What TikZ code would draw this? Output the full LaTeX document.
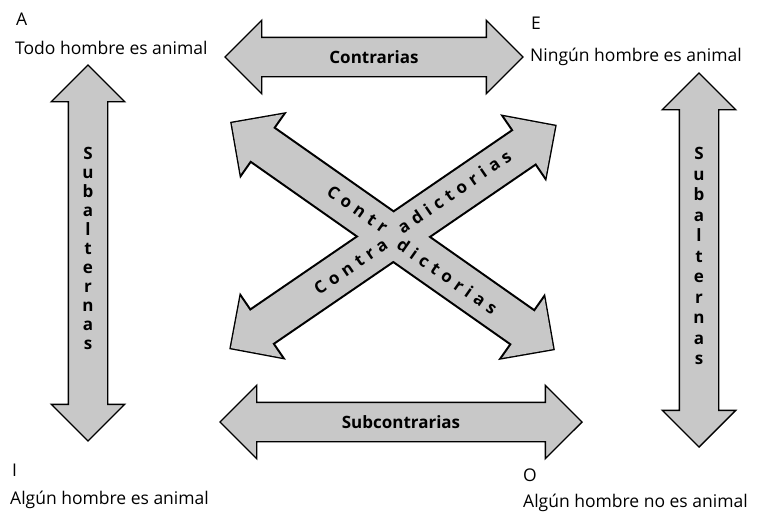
\documentclass[tikz,border=0pt]{standalone}
\usepackage{fontspec}
\setmainfont{Open Sans}
\usetikzlibrary{shapes.arrows, positioning}
\definecolor{arrowGray}{HTML}{C8C8C8}

\begin{document}
\begin{tikzpicture}[
    x=1pt, y=-1pt,
    fatarrow/.style={double arrow, draw, line width=1.4pt, fill=arrowGray, inner xsep=0pt, inner ysep=19pt, text height=0pt, text depth=0pt, double arrow head extend=17pt, minimum width=72pt},
    fatfill/.style={fatarrow, draw=none},
    corner/.style={anchor=base west, inner sep=0pt, font=\fontsize{17.5}{20}\selectfont},
    arrowlabel/.style={inner sep=0pt, font=\bfseries\fontsize{17}{20}\selectfont},
    stacklabel/.style={align=center, inner sep=0pt, font=\bfseries\fontsize{17}{19}\selectfont},
    diaglabel/.style={inner sep=0pt, font=\bfseries\fontsize{17}{20}\selectfont\addfontfeature{LetterSpace=32}},
]
    \useasboundingbox (0,0) rectangle (758,514);

    % the four propositions
    \node[corner] (letA) at (16,25) {A};
    \node[corner] (propA) at (15,54) {Todo hombre es animal};
    \node[corner] (letE) at (531,29) {E};
    \node[corner] (propE) at (530,61) {Ningún hombre es animal};
    \node[corner] (letI) at (12,476) {I};
    \node[corner] (propI) at (10,504) {Algún hombre es animal};
    \node[corner] (letO) at (523,481) {O};
    \node[corner] (propO) at (523,507) {Algún hombre no es animal};

    % contrarias and subcontrarias
    \node[fatarrow, minimum height=298pt] (contr) at (374,57) {};
    \node[fatarrow, minimum height=362pt] (subc) at (401,422) {};
    \node[arrowlabel] (contrtext) at (contr.center) {Contrarias};
    \node[arrowlabel] (subctext) at (subc.center) {Subcontrarias};

    % subalternas
    \node[fatarrow, minimum height=376pt, rotate=90] (subA) at (88,253) {};
    \node[fatarrow, minimum height=374pt, rotate=90] (subE) at (699,260) {};
    \node[stacklabel] (subAtext) at (88,248) {S\\u\\b\\a\\l\\t\\e\\r\\n\\a\\s};
    \node[stacklabel, font=\bfseries\fontsize{17}{20.5}\selectfont] (subEtext) at (699,256) {S\\u\\b\\a\\l\\t\\e\\r\\n\\a\\s};

    % contradictorias, outline first and then one joined fill
    \node[fatarrow, line width=2.8pt, minimum height=393pt, rotate=-35.1] (diagAO) at (392.5,236) {};
    \node[fatarrow, line width=2.8pt, minimum height=393pt, rotate=34.4] (diagEI) at (393,237) {};
    \node[fatfill, minimum height=393pt, rotate=-35.1] (fillAO) at (diagAO.center) {};
    \node[fatfill, minimum height=393pt, rotate=34.4] (fillEI) at (diagEI.center) {};

    \node[diaglabel, rotate=-35.1, anchor=east] (topleft) at (386,229.4) {Contr};
    \node[diaglabel, rotate=34.4, anchor=west] (topright) at (399.1,229.5) {adictorias};
    \node[diaglabel, rotate=34.4, anchor=east] (botleft) at (385.9,242.5) {Contra};
    \node[diaglabel, rotate=-35.1, anchor=west] (botright) at (399,242.6) {dictorias};
\end{tikzpicture}
\end{document}
